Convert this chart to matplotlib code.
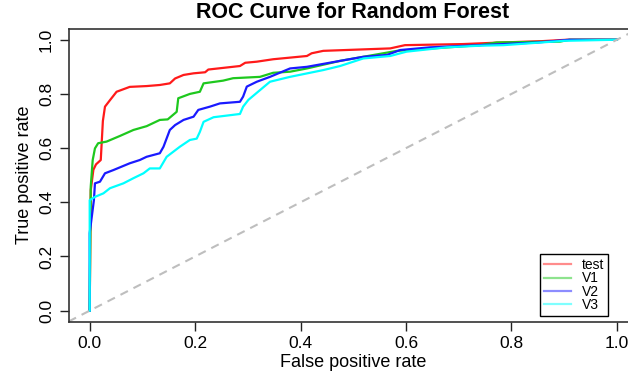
import matplotlib
matplotlib.use("Agg")
import matplotlib.pyplot as plt

plt.rcParams['font.family'] = ['Liberation Sans', 'DejaVu Sans']

# ROC points (false positive rate, true positive rate)
test_fpr = [0, 0.002, 0.007, 0.012, 0.021, 0.025, 0.029, 0.0385, 0.051, 0.076, 0.108, 0.133,
            0.152, 0.162, 0.178, 0.197, 0.219, 0.225, 0.285, 0.295, 0.317, 0.348, 0.412,
            0.421, 0.443, 0.57, 0.598, 0.708, 0.77, 0.86, 0.905, 1.0]
test_tpr = [0, 0.445, 0.52, 0.54, 0.556, 0.70, 0.753, 0.777, 0.808, 0.826, 0.829, 0.833,
            0.839, 0.857, 0.87, 0.876, 0.88, 0.89, 0.903, 0.915, 0.919, 0.928, 0.94,
            0.95, 0.959, 0.968, 0.98, 0.984, 0.989, 0.995, 1.0, 1.0]

v1_fpr = [0, 0.002, 0.0057, 0.01, 0.016, 0.032, 0.0575, 0.083, 0.108, 0.133, 0.148, 0.165,
          0.168, 0.19, 0.209, 0.216, 0.253, 0.272, 0.323, 0.348, 0.38, 0.412, 0.475, 0.583,
          0.74, 0.772, 0.892, 0.91, 1.0]
v1_tpr = [0, 0.458, 0.556, 0.599, 0.618, 0.624, 0.645, 0.667, 0.681, 0.704, 0.706, 0.734,
          0.784, 0.80, 0.808, 0.839, 0.849, 0.858, 0.863, 0.878, 0.882, 0.894, 0.922, 0.959,
          0.98, 0.99, 0.993, 1.0, 1.0]

v2_fpr = [0, 0.0, 0.004, 0.008, 0.01, 0.0195, 0.029, 0.045, 0.076, 0.095, 0.108, 0.133, 0.14,
          0.152, 0.162, 0.178, 0.197, 0.206, 0.228, 0.247, 0.285, 0.291, 0.298, 0.317, 0.342,
          0.38, 0.412, 0.475, 0.519, 0.564, 0.589, 0.646, 0.74, 0.85, 0.91, 1.0]
v2_tpr = [0, 0.286, 0.347, 0.408, 0.47, 0.476, 0.507, 0.519, 0.544, 0.556, 0.568, 0.581, 0.605,
          0.667, 0.685, 0.704, 0.716, 0.741, 0.753, 0.765, 0.771, 0.79, 0.827, 0.845, 0.863,
          0.894, 0.90, 0.922, 0.937, 0.944, 0.962, 0.972, 0.98, 0.99, 1.0, 1.0]

v3_fpr = [0, 0.0, 0.01, 0.026, 0.0385, 0.064, 0.083, 0.102, 0.114, 0.133, 0.146, 0.171, 0.19,
          0.203, 0.209, 0.216, 0.235, 0.285, 0.291, 0.301, 0.323, 0.342, 0.38, 0.443, 0.475,
          0.519, 0.57, 0.601, 0.677, 0.74, 0.785, 0.9, 1.0]
v3_tpr = [0, 0.408, 0.42, 0.433, 0.452, 0.47, 0.489, 0.507, 0.525, 0.525, 0.568, 0.605, 0.63,
          0.635, 0.66, 0.697, 0.714, 0.726, 0.753, 0.778, 0.814, 0.845, 0.863, 0.888, 0.903,
          0.931, 0.94, 0.956, 0.972, 0.978, 0.98, 0.996, 1.0]

labels = ['test', 'V1', 'V2', 'V3']
colors = ['#ff1a1a', '#1ec81e', '#1a1aff', '#00ffff']

fig = plt.figure(figsize=(6.28, 3.76), dpi=100)
# plot box runs past the right edge, as in the reference
ax = fig.add_axes([68.6 / 628, 54.5 / 376, (638 - 68.6) / 628, (321.5 - 28.9) / 376])

curves = [(test_fpr, test_tpr), (v1_fpr, v1_tpr), (v2_fpr, v2_tpr), (v3_fpr, v3_tpr)]
for (x, y), c in zip(curves, colors):
    ax.plot(x, y, color=c, lw=1.6)

ax.axline((0, 0), (1, 1), color='#bebebe', lw=1.5, ls=(0, (4, 3)))

ax.set_xlim(-0.04, 1.04)
ax.set_ylim(-0.04, 1.04)
ticks = [0, 0.2, 0.4, 0.6, 0.8, 1.0]
ax.set_xticks(ticks)
ax.set_yticks(ticks)
ax.set_xticklabels(['%.1f' % t for t in ticks])
ax.set_yticklabels(['%.1f' % t for t in ticks], rotation=90, va='center')
ax.tick_params(direction='out', length=6.5, width=1, labelsize=12.5, pad=4, color='#222222')
for s in ax.spines.values():
    s.set_linewidth(1.2)
    s.set_color('#333333')

ax.set_xlabel('False positive rate', fontsize=13, labelpad=2)
ax.set_ylabel('True positive rate', fontsize=13, labelpad=4)
fig.text(353 / 628, 1 - 12 / 376, 'ROC Curve for Random Forest', ha='center', va='center',
         fontsize=15.5, fontweight='bold')

handles = [plt.Line2D([], [], color=c, lw=1.6, alpha=0.5) for c in colors]
leg = ax.legend(handles, labels, loc='lower right', bbox_to_anchor=(608.3 / 628, 60 / 376),
                bbox_transform=fig.transFigure, borderaxespad=0, fontsize=10,
                fancybox=False, framealpha=1, edgecolor='black', labelspacing=-0.05,
                handlelength=1.9, handletextpad=0.8, borderpad=0.3, handleheight=0.5)
leg.get_frame().set_linewidth(1.0)

fig.savefig('out.png', dpi=100)
